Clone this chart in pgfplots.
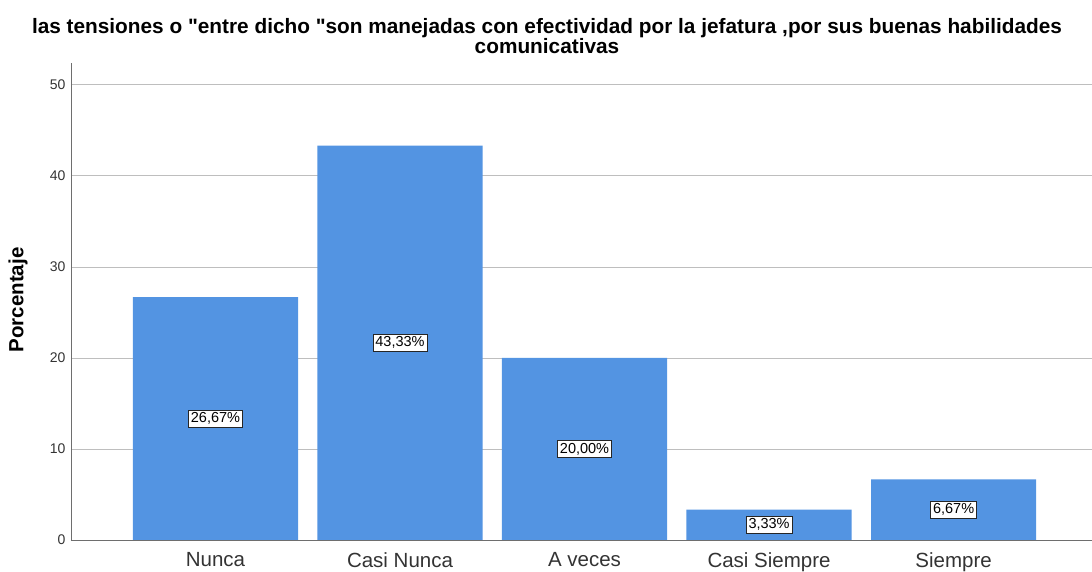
\documentclass[border=0pt]{standalone}
\usepackage{pgfplots}
\pgfplotsset{compat=1.18}
\usepackage{fontspec}
\setmainfont{Liberation Sans}[Ligatures=TeXOff]
\definecolor{barblue}{RGB}{83,148,226}
\definecolor{gridgray}{RGB}{190,190,190}
\definecolor{axisgray}{RGB}{110,110,110}
\begin{document}
\begin{tikzpicture}[x=1pt,y=1pt]
\useasboundingbox (-71,-32) rectangle (1021,540);
\begin{axis}[
  scale only axis,
  width=1021pt, height=477pt,
  at={(0,0)}, anchor=south west,
  xmin=-0.783, xmax=4.75,
  ymin=0, ymax=52.4,
  axis lines=left,
  axis line style={axisgray, line width=0.8pt, -},
  ytick={0,10,20,30,40,50},
  xtick={0,1,2,3,4},
  xticklabels={Nunca,Casi Nunca,A veces,Casi Siempre,Siempre},
  x tick label style={font=\fontsize{20.5}{23}\selectfont, text=black!80},
  y tick label style={font=\fontsize{14}{16}\selectfont, text=black!80},
  /pgf/number format/assume math mode=true,
  major tick length=0pt,
  xtick style={draw=none},
  ytick style={draw=none},
  ymajorgrids,
  grid style={gridgray, line width=0.8pt},
  ylabel={\textbf{Porcentaje}},
  ylabel style={font=\fontsize{20.5}{22}\selectfont, anchor=center},
  every axis y label/.append style={at={(-53pt,240pt)}},
  xticklabel style={yshift=-9pt},
  yticklabel style={xshift=-2pt},
  ybar, bar width=0.895,
  bar shift=0pt,
  clip=false,
]
\addplot[fill=barblue, draw=none,
  visualization depends on={y \as \rawy},
  nodes near coords={\pgfmathprintnumber[fixed,fixed zerofill,precision=2,use comma]{\pgfplotspointmeta}\%},
  every node near coord/.append style={font=\fontsize{14.5}{16}\selectfont, fill=white, draw=black!85, line width=0.8pt, inner sep=2.5pt, anchor=center, yshift={-0.5*\rawy*9.1031pt}},
] coordinates {(0,26.67) (1,43.33) (2,20.00) (3,3.33) (4,6.67)};
\end{axis}
\node[font=\bfseries\fontsize{20.8}{18.5}\selectfont, align=center] at (476,504) {las tensiones o "entre dicho "son manejadas con efectividad por la jefatura ,por sus buenas habilidades\\comunicativas};
\end{tikzpicture}
\end{document}
